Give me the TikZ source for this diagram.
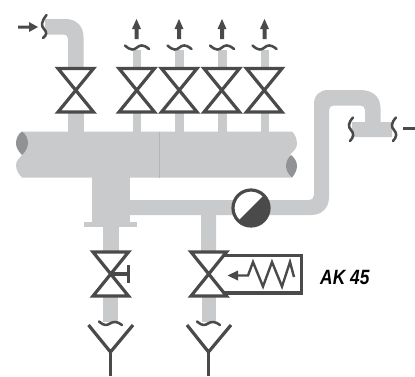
\documentclass[tikz,border=0pt]{standalone}
\usepackage{fontspec}
\setmainfont{Liberation Sans}
\definecolor{pipegray}{RGB}{201,202,204}
\definecolor{lensgray}{RGB}{145,146,148}
\definecolor{seamgray}{RGB}{180,181,183}
\definecolor{symboldark}{RGB}{74,74,74}
\tikzset{
    pipefill/.style={draw=none,fill=pipegray},
    lensfill/.style={draw=none,fill=lensgray},
    symbolline/.style={draw=symboldark,line width=2.4pt,miter limit=10},
    wavyline/.style={draw=symboldark,line width=1.9pt,line cap=round},
    tipfill/.style={draw=none,fill=symboldark}
}
\begin{document}
\begin{tikzpicture}[x=0.75pt,y=0.75pt,yscale=-1,xscale=1]
        \useasboundingbox (0,0) rectangle (415,376);

        %Shape: inlet pipe
        \draw [pipefill] (45,19) -- (66,19) .. controls (76,19) and (83.5,26) .. (83.5,37) -- (83.5,68) -- (68,68) -- (68,39) .. controls (68,36) and (66,34.5) .. (64,34.5) -- (45,34.5) -- cycle ;
        \draw [pipefill] (68,112) -- (84,112) -- (84,132) -- (68,132) -- cycle ;
        %Shape: thin branches
        \draw [pipefill] (132.5,50) -- (141,50) -- (141,68) -- (132.5,68) -- cycle ;
        \draw [pipefill] (132.5,112) -- (141,112) -- (141,132) -- (132.5,132) -- cycle ;
        \draw [pipefill] (175,50) -- (183.5,50) -- (183.5,68) -- (175,68) -- cycle ;
        \draw [pipefill] (175,112) -- (183.5,112) -- (183.5,132) -- (175,132) -- cycle ;
        \draw [pipefill] (218,50) -- (226.5,50) -- (226.5,68) -- (218,68) -- cycle ;
        \draw [pipefill] (218,112) -- (226.5,112) -- (226.5,132) -- (218,132) -- cycle ;
        \draw [pipefill] (260.5,50) -- (269,50) -- (269,68) -- (260.5,68) -- cycle ;
        \draw [pipefill] (260.5,112) -- (269,112) -- (269,132) -- (260.5,132) -- cycle ;
        %Shape: main pipe
        \draw [pipefill] (22,131.5) -- (292,131.5) .. controls (295,134) and (297,139) .. (297,144) .. controls (297,149) and (292,152) .. (290,155) .. controls (291,162) and (292,172) .. (292,177.5) -- (22,177.5) .. controls (19,175) and (16,170) .. (16,165) .. controls (16,160) and (20,158) .. (22,155) .. controls (20,150) and (20,136) .. (22,131.5) -- cycle ;
        %Shape: lens ends
        \draw [lensfill] (22,131.5) .. controls (26,134) and (28,139) .. (28,143) .. controls (28,148) and (25,152) .. (22,155) .. controls (18,151) and (16,147) .. (16,143) .. controls (16,139) and (18,134) .. (22,131.5) -- cycle ;
        \draw [lensfill] (291,155) .. controls (295,158) and (297,162) .. (297,166) .. controls (297,170) and (295,174) .. (292,177.5) .. controls (288,174) and (286,170) .. (286,166) .. controls (286,162) and (288,158) .. (291,155) -- cycle ;
        %Straight Lines: seam
        \draw [seamgray,line width=0.6pt] (159.5,131.5) -- (159.5,177.5) ;
        %Shape: tee and flange
        \draw [pipefill] (92,177) -- (130,177) -- (130,222) -- (92,222) -- cycle ;
        \draw [pipefill] (84,222) -- (137,222) -- (137,227) -- (84,227) -- cycle ;
        \draw [pipefill] (103,227) -- (119,227) -- (119,252) -- (103,252) -- cycle ;
        \draw [pipefill] (103,296) -- (118,296) -- (118,322) -- (103,322) -- cycle ;
        %Shape: bypass pipe
        \draw [pipefill] (130,200) -- (308,200) .. controls (312,200) and (314,198) .. (314,195) -- (314,104) .. controls (314,95) and (320,90) .. (328,90) -- (360,90) .. controls (373,90) and (380.5,97) .. (380.5,108) -- (380.5,122) -- (392,122) -- (392,137) -- (352,137) -- (352,122) -- (365,122) -- (365,110) .. controls (365,107) and (363,105.5) .. (360,105.5) -- (334,105.5) .. controls (331,105.5) and (329,107) .. (329,110) -- (329,197) .. controls (329,208) and (322,215) .. (311,215) -- (216,215) -- (216,252) -- (201,252) -- (201,215) -- (130,215) -- cycle ;
        \draw [pipefill] (202,296) -- (216,296) -- (216,322) -- (202,322) -- cycle ;

        %Shape: valve symbols
        \draw [symbolline] (58,68.5) -- (93.5,68.5) -- (58,112) -- (93.5,112) -- cycle ;
        \draw [symbolline] (119,68.5) -- (154.5,68.5) -- (119,112) -- (154.5,112) -- cycle ;
        \draw [symbolline] (161.5,68.5) -- (197,68.5) -- (161.5,112) -- (197,112) -- cycle ;
        \draw [symbolline] (204,68.5) -- (239.5,68.5) -- (204,112) -- (239.5,112) -- cycle ;
        \draw [symbolline] (246.5,68.5) -- (282,68.5) -- (246.5,112) -- (282,112) -- cycle ;
        \draw [symbolline] (93,252) -- (128.5,252) -- (93,296) -- (128.5,296) -- cycle ;
        \draw [symbolline] (191,252) -- (226.5,252) -- (191,296) -- (226.5,296) -- cycle ;
        %Straight Lines: handwheel
        \draw [symbolline] (111,274) -- (128.5,274) ;
        \draw [symbolline] (128.5,265) -- (128.5,283) ;
        %Shape: actuator box
        \draw [symbolline] (223,255.5) -- (301.5,255.5) -- (301.5,293) -- (223,293) ;
        %Straight Lines: spring
        \draw [symbolline,line width=1.8pt,line join=miter] (236,275.5) -- (248,275.5) -- (253,262) -- (263,286.5) -- (272,262) -- (282,286.5) -- (290,262) -- (294,277) ;
        \draw [tipfill] (227.5,275.5) -- (238,270.5) -- (238,280.5) -- cycle ;

        %Shape: flow arrows
        \draw [tipfill] (18,25.5) -- (29,25.5) -- (29,22) -- (38,27) -- (29,32) -- (29,28.5) -- (18,28.5) -- cycle ;
        \draw [tipfill] (136.5,19) -- (141,29) -- (138.5,29) -- (138.5,39) -- (134.5,39) -- (134.5,29) -- (132,29) -- cycle ;
        \draw [tipfill] (179,19) -- (183.5,29) -- (181,29) -- (181,39) -- (177,39) -- (177,29) -- (174.5,29) -- cycle ;
        \draw [tipfill] (222,19) -- (226.5,29) -- (224,29) -- (224,39) -- (220,39) -- (220,29) -- (217.5,29) -- cycle ;
        \draw [tipfill] (264.5,19) -- (269,29) -- (266.5,29) -- (266.5,39) -- (262.5,39) -- (262.5,29) -- (260,29) -- cycle ;
        \draw [tipfill] (403,127) -- (415,127) -- (415,130) -- (403,130) -- cycle ;

        %Curve Lines: pipe breaks
        \draw [wavyline] (46.5,15) .. controls (41,22) and (41,26) .. (44,29) .. controls (47,32) and (47,35) .. (43,38) ;
        \draw [wavyline] (125,45.5) .. controls (131,51) and (134,50) .. (137,47.5) .. controls (140,45) and (143,44) .. (149,49) ;
        \draw [wavyline] (167.5,45.5) .. controls (173.5,51) and (176.5,50) .. (179.5,47.5) .. controls (182.5,45) and (185.5,44) .. (191.5,49) ;
        \draw [wavyline] (210,45.5) .. controls (216,51) and (219,50) .. (222,47.5) .. controls (225,45) and (228,44) .. (234,49) ;
        \draw [wavyline] (252.5,45.5) .. controls (258.5,51) and (261.5,50) .. (264.5,47.5) .. controls (267.5,45) and (270.5,44) .. (276.5,49) ;
        \draw [wavyline] (353,117.5) .. controls (348,123) and (348,127) .. (351,130) .. controls (354,133) and (354,137) .. (350,141) ;
        \draw [wavyline] (396,117.5) .. controls (391,123) and (391,127) .. (394,130) .. controls (397,133) and (397,137) .. (393,141) ;
        \draw [wavyline] (99,321.5) .. controls (104,326) and (107,325.5) .. (110,323.5) .. controls (113,321.5) and (117,321) .. (122,325) ;
        \draw [wavyline] (197,321.5) .. controls (202,326) and (205,325.5) .. (208,323.5) .. controls (211,321.5) and (215,321) .. (220,325) ;

        %Straight Lines: funnels
        \draw [symbolline] (88.5,325) -- (110.5,352) -- (133,325) ;
        \draw [symbolline] (110.5,352) -- (110.5,376) ;
        \draw [symbolline] (187,325) -- (208.5,352) -- (231,325) ;
        \draw [symbolline] (208.5,352) -- (208.5,376) ;

        %Shape: pump circle
        \draw [draw=none,fill=white] (251,208) circle (19) ;
        \fill [symboldark] (264.4,194.6) arc (-45:135:19) -- cycle ;
        \draw [symbolline] (251,208) circle (18) ;

        % Text Node
        \draw (320,277) node [anchor=west,inner sep=0pt,xscale=0.84] (aklabel) {\fontsize{15.5}{17}\selectfont\bfseries\itshape AK 45};

    \end{tikzpicture}
\end{document}
